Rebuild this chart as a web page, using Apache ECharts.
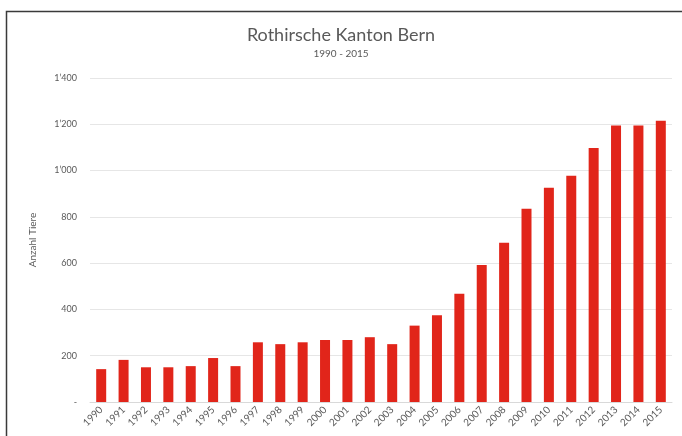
<!DOCTYPE html>
<html>
<head>
<meta charset="utf-8">
<script src="https://cdn.jsdelivr.net/npm/echarts@6/dist/echarts.min.js"></script>
<style>
  html, body { margin: 0; padding: 0; background: #fff; }
  #chart { width: 682px; height: 436px; }
</style>
</head>
<body>
<div id="chart"></div>
<script>
// Red deer counts, canton of Bern
const years = ['1990','1991','1992','1993','1994','1995','1996','1997','1998','1999','2000','2001','2002','2003','2004','2005','2006','2007','2008','2009','2010','2011','2012','2013','2014','2015'];
const deerCounts = [142, 182, 150, 150, 155, 190, 155, 258, 250, 258, 268, 268, 280, 250, 330, 375, 468, 592, 688, 835, 926, 978, 1098, 1195, 1195, 1215];
const yTicks = [0, 200, 400, 600, 800, 1000, 1200, 1400];

const chart = echarts.init(document.getElementById('chart'));
const textColor = '#595959';
const font = 'Lato, "Open Sans", sans-serif';

// Swiss thousands separator, dash for zero
function fmt(v) {
  if (v === 0) return '-';
  const s = String(v);
  return s.length > 3 ? s.slice(0, s.length - 3) + '\u2019' + s.slice(-3) : s;
}

chart.setOption({
  animation: false,
  backgroundColor: '#fff',
  title: {
    text: 'Rothirsche Kanton Bern',
    subtext: '1990 - 2015',
    left: 'center',
    top: 21,
    itemGap: 5,
    textStyle: { fontFamily: font, fontSize: 18, fontWeight: 'normal', color: textColor },
    subtextStyle: { fontFamily: font, fontSize: 10, color: textColor }
  },
  graphic: [{
    type: 'polyline',
    shape: { points: [[6.5, 436], [6.5, 11.5], [682, 11.5]] },
    style: { stroke: '#3a3a3a', lineWidth: 1.5, fill: null },
    silent: true
  }],
  grid: { left: 90, right: 10, top: 78, bottom: 34 },
  xAxis: {
    type: 'category',
    data: years,
    axisLine: { show: true, lineStyle: { color: '#d9d9d9' } },
    axisTick: { show: false },
    axisLabel: {
      rotate: 45,
      interval: 0,
      fontFamily: font,
      fontSize: 10,
      color: textColor,
      margin: 6
    }
  },
  yAxis: {
    type: 'value',
    min: yTicks[0],
    max: yTicks[yTicks.length - 1],
    interval: 200,
    name: 'Anzahl Tiere',
    nameLocation: 'middle',
    nameGap: 52,
    nameRotate: 90,
    nameTextStyle: { fontFamily: font, fontSize: 10, color: textColor },
    axisLine: { show: false },
    axisTick: { show: false },
    splitLine: { lineStyle: { color: '#e6e6e6', width: 1 } },
    axisLabel: {
      fontFamily: font,
      fontSize: 9,
      color: textColor,
      margin: 13,
      formatter: fmt
    }
  },
  series: [{
    type: 'bar',
    data: deerCounts,
    barWidth: 10,
    itemStyle: { color: '#e1251a' }
  }]
});
</script>
</body>
</html>
